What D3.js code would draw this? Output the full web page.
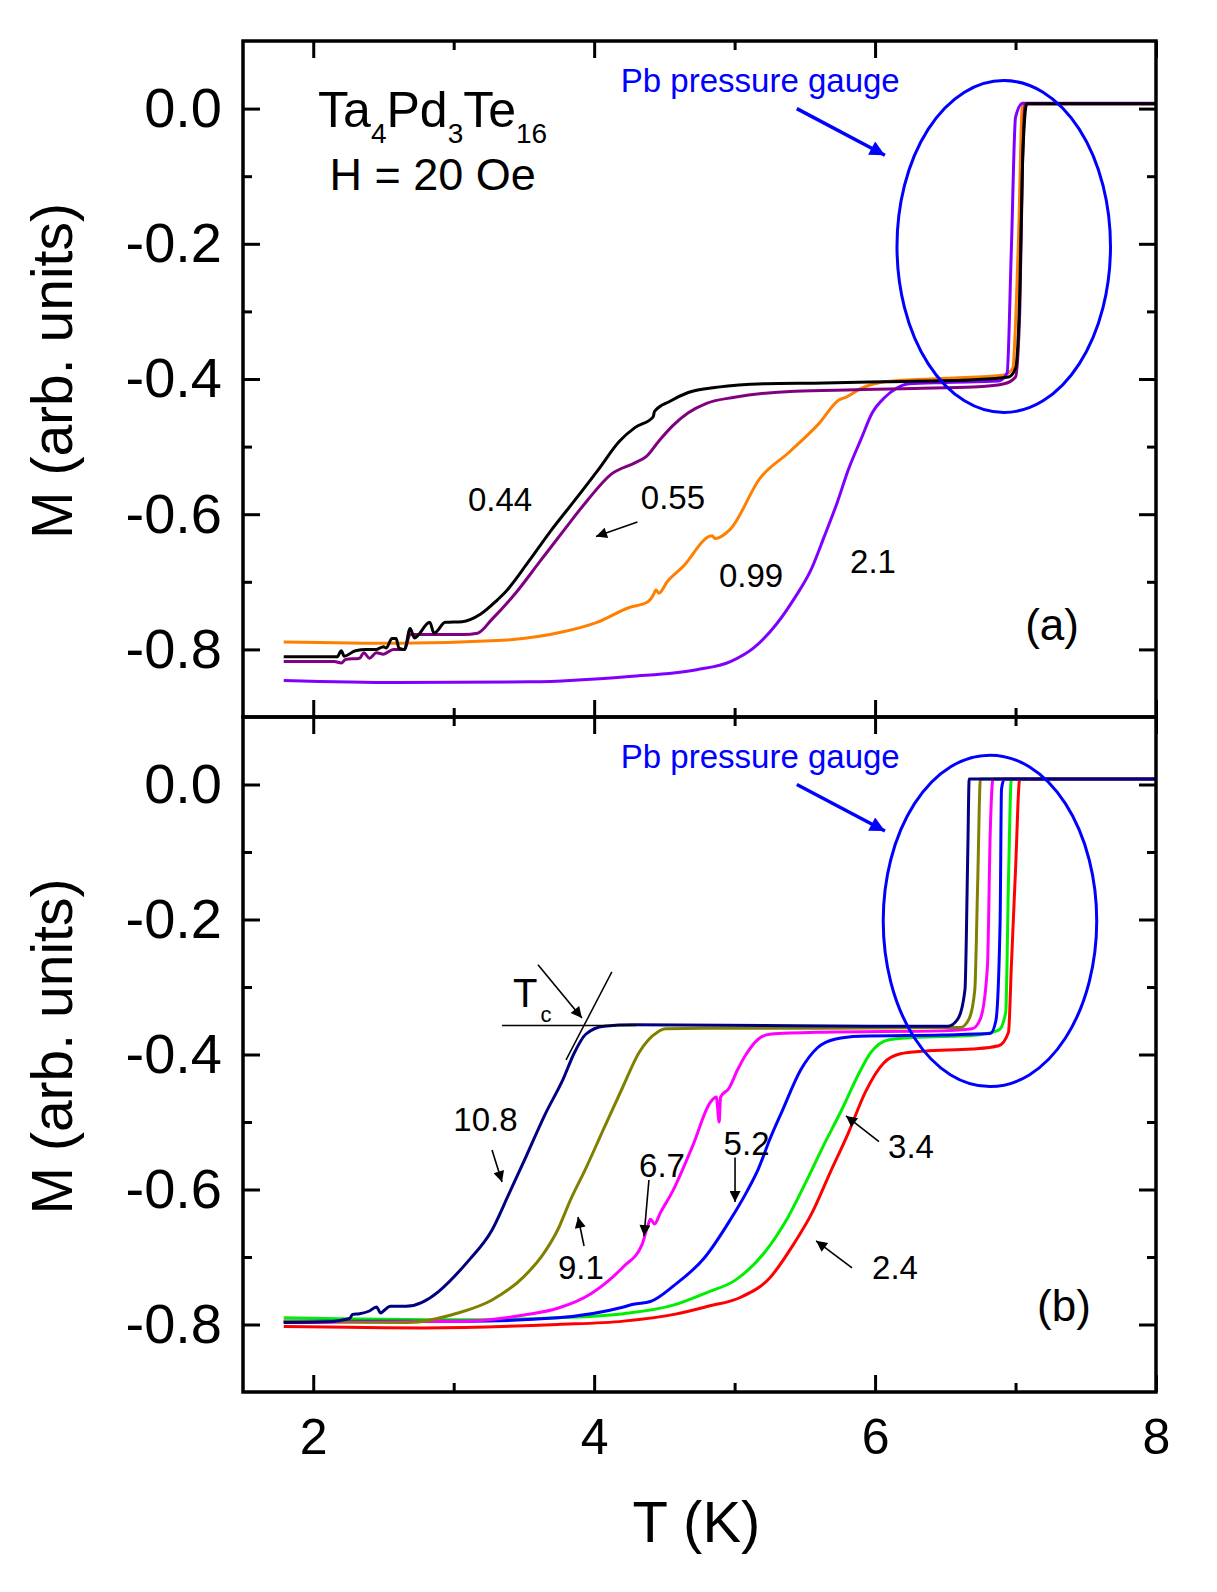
<!DOCTYPE html>
<html>
<head>
<meta charset="utf-8">
<script src="https://cdn.jsdelivr.net/npm/d3@7"></script>
<style>
  body { margin: 0; background: #fff; }
  svg { display: block; background: #fff; }
</style>
</head>
<body>
<svg id="chart"></svg>
<script>
// ---- axis ticks ----
const xTicksMajor = [2, 4, 6, 8];
const xTickLabels = ["2", "4", "6", "8"];
const xTicksMinor = [3, 5, 7];
const yTicksMajor = [0, -0.2, -0.4, -0.6, -0.8];
const yTickLabels = ["0.0", "-0.2", "-0.4", "-0.6", "-0.8"];
const yTicksMinor = [-0.1, -0.3, -0.5, -0.7];

// pressures (GPa) labelling the curves
const pressuresA = ["0.44", "0.55", "0.99", "2.1"];
const pressuresB = ["10.8", "9.1", "6.7", "5.2", "3.4", "2.4"];

// ---- panel (a): [T (K), M] ----
const curve044 = [[1.79,-0.811],[2.17,-0.811],[2.20,-0.802],[2.22,-0.810],[2.30,-0.802],[2.38,-0.800],[2.45,-0.800],
  [2.50,-0.796],[2.52,-0.798],[2.56,-0.784],[2.59,-0.784],[2.61,-0.798],[2.65,-0.800],[2.69,-0.769],[2.72,-0.783],
  [2.83,-0.760],[2.86,-0.776],[2.94,-0.760],[3.06,-0.759],[3.19,-0.748],[3.31,-0.727],[3.36,-0.717],[3.53,-0.671],
  [3.69,-0.625],[3.86,-0.580],[4.03,-0.534],[4.18,-0.492],[4.29,-0.472],[4.42,-0.456],[4.43,-0.448],[4.54,-0.433],
  [4.67,-0.420],[4.88,-0.412],[5.22,-0.407],[5.64,-0.406],[6.07,-0.404],[6.70,-0.401],[6.95,-0.397],[7.00,-0.384],
  [7.03,-0.274],[7.05,-0.078],[7.08,0.007],[8.0,0.007]];
const curve055 = [[1.79,-0.818],[2.15,-0.818],[2.20,-0.820],[2.23,-0.815],[2.33,-0.813],[2.36,-0.805],[2.40,-0.813],
  [2.45,-0.805],[2.50,-0.807],[2.57,-0.800],[2.65,-0.800],[2.69,-0.778],[3.07,-0.778],[3.17,-0.776],[3.27,-0.756],
  [3.44,-0.717],[3.61,-0.671],[3.78,-0.625],[3.95,-0.580],[4.12,-0.541],[4.29,-0.524],[4.37,-0.515],[4.46,-0.492],
  [4.56,-0.469],[4.67,-0.450],[4.80,-0.436],[5.00,-0.427],[5.43,-0.418],[5.86,-0.416],[6.28,-0.414],[6.70,-0.412],
  [6.92,-0.407],[7.00,-0.397],[7.03,-0.300],[7.05,-0.080],[7.07,0.007],[8.0,0.007]];
const curve099 = [[1.79,-0.789],[2.60,-0.791],[3.31,-0.787],[3.78,-0.774],[4.02,-0.760],[4.25,-0.738],[4.38,-0.730],
  [4.42,-0.720],[4.44,-0.712],[4.46,-0.717],[4.52,-0.700],[4.63,-0.678],[4.84,-0.632],[4.86,-0.636],[4.97,-0.622],
  [5.18,-0.547],[5.39,-0.508],[5.60,-0.466],[5.75,-0.430],[5.78,-0.428],[5.90,-0.414],[6.07,-0.404],[6.50,-0.399],
  [6.92,-0.394],[6.98,-0.384],[7.02,-0.200],[7.05,0.007],[8.0,0.007]];
const curve21 = [[1.79,-0.846],[2.60,-0.849],[3.55,-0.848],[4.25,-0.840],[4.73,-0.830],[4.97,-0.818],[5.14,-0.797],
  [5.30,-0.762],[5.43,-0.723],[5.54,-0.684],[5.64,-0.632],[5.73,-0.583],[5.81,-0.534],[5.90,-0.489],[5.98,-0.450],
  [6.07,-0.427],[6.15,-0.414],[6.24,-0.407],[6.50,-0.405],[6.88,-0.403],[6.94,-0.391],[6.97,-0.210],[7.00,-0.013],
  [7.05,0.008],[8.0,0.008]];

// ---- panel (b) ----
const curve108 = [[1.79,-0.797],[2.12,-0.796],[2.19,-0.794],[2.26,-0.791],[2.28,-0.785],[2.33,-0.784],[2.40,-0.780],
  [2.45,-0.774],[2.48,-0.783],[2.50,-0.780],[2.55,-0.773],[2.66,-0.773],[3.12,-0.702],[3.27,-0.661],[3.39,-0.608],
  [3.52,-0.549],[3.65,-0.489],[3.78,-0.436],[3.86,-0.397],[3.94,-0.370],[4.07,-0.358],[4.28,-0.356],[5.21,-0.357],
  [6.06,-0.358],[6.52,-0.358],[6.59,-0.347],[6.64,-0.304],[6.66,-0.100],[6.67,0.008],[8.0,0.008]];
const curve91 = [[1.79,-0.795],[2.67,-0.797],[3.03,-0.783],[3.27,-0.764],[3.50,-0.729],[3.64,-0.695],[3.74,-0.660],
  [3.83,-0.616],[3.94,-0.569],[4.07,-0.509],[4.20,-0.450],[4.32,-0.397],[4.45,-0.367],[4.51,-0.362],[4.79,-0.361],
  [5.63,-0.361],[6.61,-0.360],[6.67,-0.347],[6.71,-0.304],[6.73,-0.150],[6.75,0.008],[8.0,0.008]];
const curve67 = [[1.79,-0.797],[3.10,-0.795],[3.50,-0.786],[3.74,-0.776],[3.98,-0.754],[4.21,-0.714],[4.34,-0.682],
  [4.38,-0.655],[4.40,-0.644],[4.43,-0.651],[4.47,-0.635],[4.56,-0.602],[4.70,-0.536],[4.83,-0.470],[4.87,-0.463],
  [4.89,-0.500],[4.90,-0.463],[4.96,-0.450],[5.02,-0.423],[5.09,-0.397],[5.17,-0.377],[5.25,-0.370],[5.63,-0.367],
  [6.48,-0.365],[6.69,-0.362],[6.75,-0.347],[6.80,-0.270],[6.82,-0.070],[6.84,0.008],[8.0,0.008]];
const curve52 = [[1.79,-0.795],[3.10,-0.795],[3.74,-0.790],[4.21,-0.774],[4.28,-0.770],[4.40,-0.766],[4.57,-0.742],
  [4.79,-0.700],[4.96,-0.648],[5.09,-0.602],[5.17,-0.569],[5.25,-0.526],[5.34,-0.483],[5.47,-0.423],[5.59,-0.390],
  [5.72,-0.377],[5.89,-0.373],[6.48,-0.371],[6.82,-0.369],[6.86,-0.350],[6.89,-0.205],[6.90,-0.007],[6.92,0.008],[8.0,0.008]];
const curve34 = [[1.79,-0.790],[3.03,-0.793],[3.74,-0.790],[4.21,-0.784],[4.57,-0.771],[4.81,-0.752],[5.00,-0.735],
  [5.21,-0.694],[5.38,-0.641],[5.51,-0.588],[5.63,-0.536],[5.76,-0.483],[5.89,-0.426],[5.97,-0.397],[6.10,-0.378],
  [6.27,-0.375],[6.69,-0.372],[6.88,-0.364],[6.93,-0.338],[6.95,-0.140],[6.97,0.008],[8.0,0.008]];
const curve24 = [[1.79,-0.803],[2.79,-0.805],[3.74,-0.800],[4.21,-0.795],[4.57,-0.785],[4.81,-0.773],[5.04,-0.760],
  [5.25,-0.731],[5.42,-0.681],[5.55,-0.635],[5.68,-0.575],[5.81,-0.516],[5.93,-0.456],[6.06,-0.413],[6.18,-0.399],
  [6.35,-0.395],[6.69,-0.392],[6.88,-0.387],[6.95,-0.367],[6.97,-0.270],[7.00,-0.126],[7.03,0.008],[8.0,0.008]];

const colorsA = ["#000000", "#800080", "#ff8000", "#8000ff"];
const colorsB = ["#000080", "#808000", "#ff00ff", "#0000ff", "#00ee00", "#ff0000"];
const gaugeColor = "#0000ff";

const FONT = "'Liberation Sans', Arial, Helvetica, sans-serif";
const width = 1217, height = 1592;
const left = 243, right = 1156;

const svg = d3.select("#chart").attr("width", width).attr("height", height);
svg.append("rect").attr("width", width).attr("height", height).attr("fill", "#fff");

const defs = svg.append("defs");
defs.append("marker").attr("id", "headK")
    .attr("viewBox", "0 0 10 10").attr("refX", 10).attr("refY", 5)
    .attr("markerUnits", "userSpaceOnUse").attr("markerWidth", 17).attr("markerHeight", 11)
    .attr("orient", "auto")
  .append("path").attr("d", "M0,0 L10,5 L0,10 Z").attr("fill", "#000");
defs.append("marker").attr("id", "headB")
    .attr("viewBox", "0 0 10 10").attr("refX", 10).attr("refY", 5)
    .attr("markerUnits", "userSpaceOnUse").attr("markerWidth", 24).attr("markerHeight", 15)
    .attr("orient", "auto")
  .append("path").attr("d", "M0,0 L10,5 L0,10 Z").attr("fill", gaugeColor);

const x = d3.scaleLinear().domain([1.5, 8]).range([left, right]);

const panels = [
  {
    y: d3.scaleLinear().domain([-0.9, 0.1]).range([717, 41]),
    curves: [curve099, curve21, curve055, curve044],
    colors: [colorsA[2], colorsA[3], colorsA[1], colorsA[0]],
    tag: "(a)", tagPos: [7.26, -0.786],
    labels: [[3.33, -0.595], [4.561, -0.592], [5.117, -0.707], [5.985, -0.687]],
    names: pressuresA,
    arrows: [[[4.308, -0.6115], [4.013, -0.633]]],
    ellipse: [6.916, -0.204], bottomLabels: false, title: true
  },
  {
    y: d3.scaleLinear().domain([-0.9, 0.1]).range([1392, 717]),
    curves: [curve24, curve34, curve52, curve67, curve91, curve108],
    colors: [colorsB[5], colorsB[4], colorsB[3], colorsB[2], colorsB[1], colorsB[0]],
    tag: "(b)", tagPos: [7.345, -0.795],
    labels: [[3.226, -0.513], [3.906, -0.7326], [4.483, -0.5815], [5.085, -0.549], [6.256, -0.553], [6.142, -0.7326]],
    names: pressuresB,
    arrows: [
      [[3.273, -0.5415], [3.344, -0.589]],
      [[3.928, -0.6837], [3.885, -0.6407]],
      [[4.39, -0.586], [4.355, -0.669]],
      [[5.003, -0.5527], [5.003, -0.6185]],
      [[6.028, -0.529], [5.793, -0.491]],
      [[5.836, -0.716], [5.58, -0.676]],
      [[3.60, -0.267], [3.913, -0.346]]
    ],
    ellipse: [6.818, -0.202], bottomLabels: true, title: false
  }
];

function styleAxis(g, fontSize) {
  g.attr("font-family", FONT).attr("font-size", fontSize);
  g.select(".domain").remove();
  g.selectAll(".tick line").attr("stroke", "#000").attr("stroke-width", 3);
}

panels.forEach(p => {
  const y = p.y;
  const [yb, yt] = y.range();
  const g = svg.append("g");

  const line = d3.line().x(d => x(d[0])).y(d => y(d[1])).curve(d3.curveMonotoneX);
  g.selectAll("path.curve").data(p.curves).join("path")
    .attr("class", "curve")
    .attr("d", line)
    .attr("fill", "none")
    .attr("stroke", (d, i) => p.colors[i])
    .attr("stroke-width", 3)
    .attr("stroke-linejoin", "round");

  // ticks on all four sides, inward
  g.append("g").attr("transform", `translate(${left},0)`)
    .call(d3.axisLeft(y).tickValues(yTicksMajor).tickFormat((d, i) => yTickLabels[i]).tickSize(-17).tickPadding(21))
    .call(a => styleAxis(a, 56));
  g.append("g").attr("transform", `translate(${left},0)`)
    .call(d3.axisLeft(y).tickValues(yTicksMinor).tickFormat("").tickSize(-9))
    .call(a => styleAxis(a, 56));
  g.append("g").attr("transform", `translate(${right},0)`)
    .call(d3.axisRight(y).tickValues(yTicksMajor).tickFormat("").tickSize(-17))
    .call(a => styleAxis(a, 56));
  g.append("g").attr("transform", `translate(${right},0)`)
    .call(d3.axisRight(y).tickValues(yTicksMinor).tickFormat("").tickSize(-9))
    .call(a => styleAxis(a, 56));
  g.append("g").attr("transform", `translate(0,${yt})`)
    .call(d3.axisTop(x).tickValues(xTicksMajor).tickFormat("").tickSize(-17))
    .call(a => styleAxis(a, 50));
  g.append("g").attr("transform", `translate(0,${yt})`)
    .call(d3.axisTop(x).tickValues(xTicksMinor).tickFormat("").tickSize(-9))
    .call(a => styleAxis(a, 50));
  g.append("g").attr("transform", `translate(0,${yb})`)
    .call(d3.axisBottom(x).tickValues(xTicksMajor)
      .tickFormat((d, i) => p.bottomLabels ? xTickLabels[i] : "").tickSize(-17).tickPadding(26))
    .call(a => styleAxis(a, 50));
  g.append("g").attr("transform", `translate(0,${yb})`)
    .call(d3.axisBottom(x).tickValues(xTicksMinor).tickFormat("").tickSize(-9))
    .call(a => styleAxis(a, 50));

  g.append("rect")
    .attr("x", left).attr("y", yt)
    .attr("width", right - left).attr("height", yb - yt)
    .attr("fill", "none").attr("stroke", "#000").attr("stroke-width", 3.5);

  // y-axis title
  g.append("text")
    .attr("transform", `translate(72,${(yt + yb) / 2 - 8}) rotate(-90)`)
    .attr("text-anchor", "middle")
    .attr("font-family", FONT).attr("font-size", 57)
    .text("M (arb. units)");

  // Pb pressure gauge annotation
  g.append("ellipse")
    .attr("cx", x(p.ellipse[0])).attr("cy", y(p.ellipse[1]))
    .attr("rx", x(p.ellipse[0] + 0.76) - x(p.ellipse[0]))
    .attr("ry", y(p.ellipse[1]) - y(p.ellipse[1] + 0.2455))
    .attr("fill", "none").attr("stroke", gaugeColor).attr("stroke-width", 3);
  g.append("text")
    .attr("x", x(4.19)).attr("y", y(0.025))
    .attr("font-family", FONT).attr("font-size", 33).attr("fill", gaugeColor)
    .text("Pb pressure gauge");
  g.append("line")
    .attr("x1", x(5.443)).attr("y1", y(0.0))
    .attr("x2", x(6.07)).attr("y2", y(-0.069))
    .attr("stroke", gaugeColor).attr("stroke-width", 3.5)
    .attr("marker-end", "url(#headB)");

  // curve labels and pointer arrows
  g.selectAll("text.plabel").data(p.names).join("text")
    .attr("class", "plabel")
    .attr("x", (d, i) => x(p.labels[i][0]))
    .attr("y", (d, i) => y(p.labels[i][1]))
    .attr("text-anchor", "middle")
    .attr("font-family", FONT).attr("font-size", 33)
    .text(d => d);
  g.selectAll("line.ptr").data(p.arrows).join("line")
    .attr("class", "ptr")
    .attr("x1", d => x(d[0][0])).attr("y1", d => y(d[0][1]))
    .attr("x2", d => x(d[1][0])).attr("y2", d => y(d[1][1]))
    .attr("stroke", "#000").attr("stroke-width", 1.6)
    .attr("marker-end", "url(#headK)");

  g.append("text")
    .attr("x", x(p.tagPos[0])).attr("y", y(p.tagPos[1]))
    .attr("text-anchor", "middle")
    .attr("font-family", FONT).attr("font-size", 44)
    .text(p.tag);

  if (p.title) {
    const t1 = g.append("text")
      .attr("x", x(2.85)).attr("y", y(-0.027))
      .attr("text-anchor", "middle")
      .attr("font-family", FONT).attr("font-size", 50);
    t1.append("tspan").text("Ta");
    t1.append("tspan").attr("font-size", 28).attr("dy", 16).text("4");
    t1.append("tspan").attr("dy", -16).text("Pd");
    t1.append("tspan").attr("font-size", 28).attr("dy", 16).text("3");
    t1.append("tspan").attr("dy", -16).text("Te");
    t1.append("tspan").attr("font-size", 28).attr("dy", 16).text("16");
    g.append("text")
      .attr("x", x(2.85)).attr("y", y(-0.120))
      .attr("text-anchor", "middle")
      .attr("font-family", FONT).attr("font-size", 45)
      .text("H = 20 Oe");
  } else {
    // Tc construction
    const tc = g.append("text")
      .attr("x", x(3.422)).attr("y", y(-0.3296))
      .attr("font-family", FONT).attr("font-size", 40);
    tc.append("tspan").text("T");
    tc.append("tspan").attr("font-size", 22).attr("dy", 15).attr("dx", 3).text("c");
    g.append("line")
      .attr("x1", x(3.344)).attr("y1", y(-0.357))
      .attr("x2", x(4.30)).attr("y2", y(-0.357))
      .attr("stroke", "#000").attr("stroke-width", 1.5);
    g.append("line")
      .attr("x1", x(4.126)).attr("y1", y(-0.2776))
      .attr("x2", x(3.80)).attr("y2", y(-0.408))
      .attr("stroke", "#000").attr("stroke-width", 1.5);
  }
});

// x-axis title
svg.append("text")
  .attr("x", (left + right) / 2 - 3).attr("y", 1542)
  .attr("text-anchor", "middle")
  .attr("font-family", FONT).attr("font-size", 58)
  .text("T (K)");
</script>
</body>
</html>
